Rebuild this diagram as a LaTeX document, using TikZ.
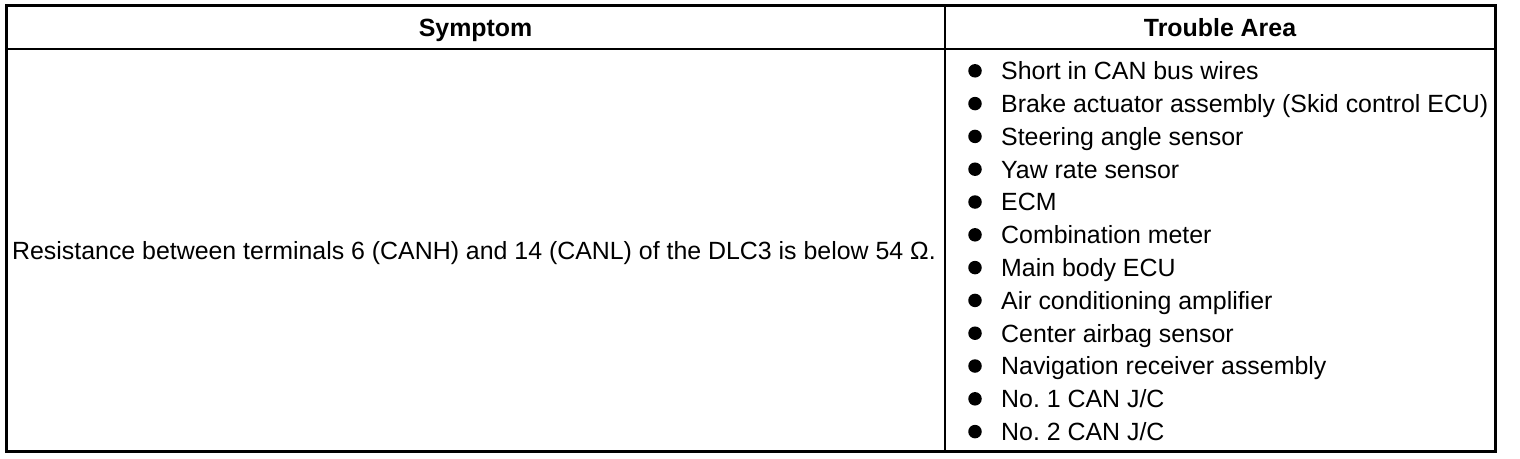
\documentclass[tikz,border=0pt]{standalone}
\usepackage{fontspec}
\setmainfont{Liberation Sans}
\frenchspacing
\tikzset{
  outer/.style={line width=3pt},
  inner/.style={line width=2.4pt},
  cell/.style={inner sep=0pt, font=\fontsize{24.9}{30}\selectfont},
  head/.style={cell, font=\fontsize{24.9}{30}\selectfont\bfseries},
  bul/.style={circle, fill=black, inner sep=0pt, minimum size=13.5pt},
}
\begin{document}
\begin{tikzpicture}[x=1pt,y=-1pt]
\useasboundingbox (0,0) rectangle (1520,458);
% grid
\coordinate (tl) at (6.5,5.7);
\coordinate (br) at (1495.5,451.5);
\coordinate (dt) at (944.7,5.7);
\coordinate (db) at (944.7,451.5);
\coordinate (hl) at (6.5,48.7);
\coordinate (hr) at (1495.5,48.7);
\draw[inner] (hl) -- (hr);
\draw[inner] (dt) -- (db);
\draw[outer] (tl) rectangle (br);
% header
\node[head, anchor=base] (h1) at (475.6,36) {Symptom};
\node[head, anchor=base] (h2) at (1220,36) {Trouble Area};
% symptom
\node[cell, anchor=base] (s) at (474,259) {Resistance between terminals 6 (CANH) and 14 (CANL) of the DLC3 is below 54\ \symbol{"03A9}.};
% list
\foreach \t [count=\i from 0] in {Short in CAN bus wires,Brake actuator assembly (Skid control ECU),Steering angle sensor,Yaw rate sensor,ECM,Combination meter,Main body ECU,Air conditioning amplifier,Center airbag sensor,Navigation receiver assembly,No. 1 CAN J/C,No. 2 CAN J/C}{
  \pgfmathsetmacro{\yc}{70.8+32.8*\i}
  \node[bul] (b\i) at (975,\yc) {};
  \node[cell, anchor=base west] (t\i) at (1001,\yc+8.8) {\t};
}
\end{tikzpicture}
\end{document}
